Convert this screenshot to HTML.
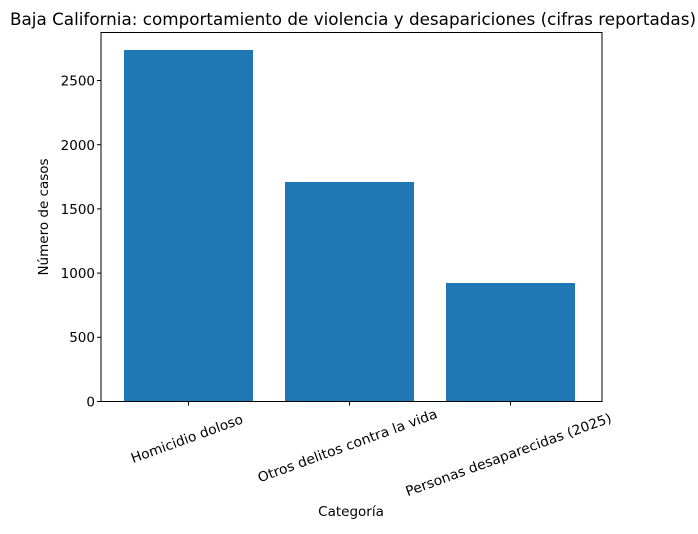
<!DOCTYPE html>
<html><head><meta charset="utf-8"><style>body{margin:0;background:#fff}</style></head><body>
<svg width="698" height="529" xmlns="http://www.w3.org/2000/svg" font-family="DejaVu Sans, Liberation Sans, sans-serif">
<rect width="698" height="529" fill="#fff"/>
<text x="10" y="25" font-size="16.5" textLength="686" lengthAdjust="spacingAndGlyphs">Baja California: comportamiento de violencia y desapariciones (cifras reportadas)</text>
<g fill="#1f77b4">
<rect x="124" y="50" width="129" height="351.5"/>
<rect x="285" y="182" width="129" height="219.5"/>
<rect x="446" y="283" width="129" height="118.5"/>
</g>
<rect x="101" y="32.5" width="501" height="369" fill="none" stroke="#000" stroke-width="1"/>
<g stroke="#000">
<line x1="97" x2="101" y1="401.5" y2="401.5"/><line x1="97" x2="101" y1="337.3" y2="337.3"/><line x1="97" x2="101" y1="273.1" y2="273.1"/><line x1="97" x2="101" y1="208.9" y2="208.9"/><line x1="97" x2="101" y1="144.7" y2="144.7"/><line x1="97" x2="101" y1="80.5" y2="80.5"/>
<line x1="188.5" x2="188.5" y1="401.5" y2="405.5"/><line x1="349.5" x2="349.5" y1="401.5" y2="405.5"/><line x1="510.5" x2="510.5" y1="401.5" y2="405.5"/>
</g>
<g font-size="13.5" text-anchor="end">
<text x="95" y="406.5">0</text><text x="95" y="342">500</text><text x="95" y="278">1000</text><text x="95" y="214">1500</text><text x="95" y="150">2000</text><text x="95" y="85.5">2500</text>
</g>
<g font-size="13.5" text-anchor="middle">
<text transform="translate(188.5,443) rotate(-20)" textLength="118" lengthAdjust="spacingAndGlyphs">Homicidio doloso</text>
<text transform="translate(349,450) rotate(-20)" textLength="190" lengthAdjust="spacingAndGlyphs">Otros delitos contra la vida</text>
<text transform="translate(510,459) rotate(-20)" textLength="218" lengthAdjust="spacingAndGlyphs">Personas desaparecidas (2025)</text>
<text x="351" y="516">Categoría</text>
<text transform="translate(48,217) rotate(-90)">Número de casos</text>
</g>
</svg>
</body></html>
